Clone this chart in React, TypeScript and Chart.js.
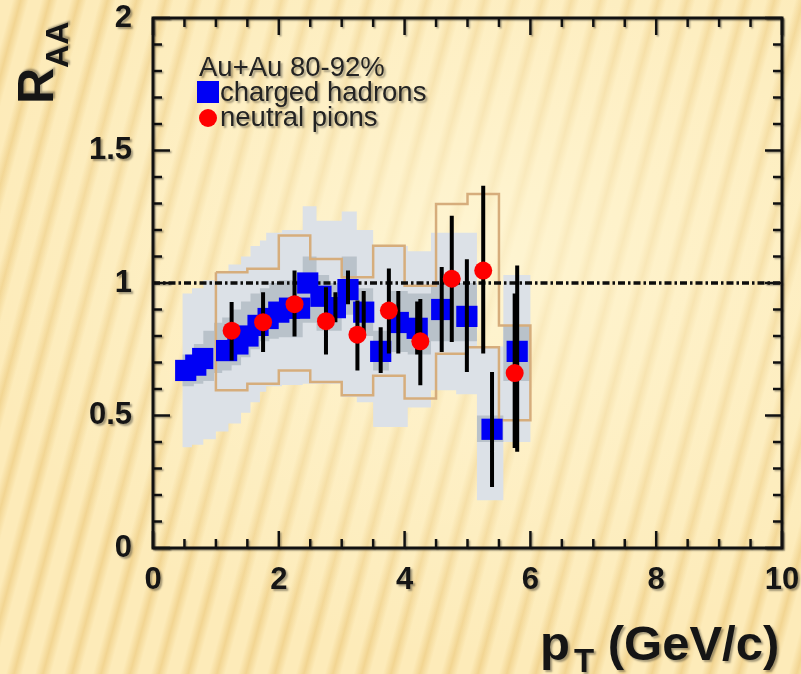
import React, { useEffect, useRef } from "react";
import { Chart, registerables } from "chart.js";

Chart.register(...registerables);

// ---------------- data ----------------
// charged hadrons (blue squares)
const hadronPt = [0.52, 0.68, 0.79, 1.17, 1.35, 1.51, 1.67, 1.83, 2.0, 2.17, 2.33, 2.46, 2.67, 2.9, 3.1, 3.35, 3.62, 3.9, 4.2, 4.59, 4.99, 5.39, 5.79];
const hadronRaa = [0.67, 0.69, 0.715, 0.745, 0.77, 0.8, 0.84, 0.866, 0.89, 0.905, 0.905, 1.0, 0.95, 0.907, 0.975, 0.89, 0.742, 0.851, 0.829, 0.9, 0.874, 0.448, 0.742];
const hadronErrLow = [null, null, null, null, null, null, null, null, null, null, null, null, null, 0.852, 0.92, 0.795, 0.66, 0.734, 0.73, 0.74, 0.664, 0.23, 0.363];
const hadronErrHigh = [null, null, null, null, null, null, null, null, null, null, null, null, null, 0.965, 1.047, 0.97, 0.833, 0.97, 0.93, 1.06, 1.09, 0.664, 1.066];

// charged hadron uncertainty bands (step bins)
const hadronBandEdges = [0.47, 0.62, 0.8, 1.0, 1.2, 1.4, 1.55, 1.7, 1.8, 2.05, 2.38, 2.6, 3.0, 3.24, 3.5, 4.05, 4.42, 4.82, 5.15, 5.57, 6.0];
const hadronBandHigh = [0.96, 0.98, 1.01, 1.04, 1.07, 1.1, 1.14, 1.16, 1.19, 1.2, 1.29, 1.235, 1.27, 1.2, 1.14, 1.12, 1.19, 1.19, 0.76, 1.03];
const hadronBandLow = [0.38, 0.39, 0.41, 0.44, 0.47, 0.51, 0.55, 0.59, 0.61, 0.615, 0.62, 0.62, 0.57, 0.55, 0.457, 0.53, 0.595, 0.58, 0.18, 0.4];

const hadronSysEdges = [0.47, 0.65, 0.8, 0.97, 1.1, 1.25, 1.4, 1.55, 1.7, 1.85, 2.0, 2.38, 2.6, 2.8, 3.0, 3.24, 3.5, 3.75, 4.05, 4.42, 5.15, 5.57, 6.0];
const hadronSysHigh = [0.73, 0.77, 0.82, 0.85, 0.87, 0.9, 0.93, 0.96, 0.98, 1.0, 1.01, 1.1, 1.03, 1.0, 1.1, 0.98, 0.82, 0.97, 0.96, 1.0, 0.5, 0.84];
const hadronSysLow = [0.61, 0.62, 0.63, 0.66, 0.67, 0.69, 0.72, 0.75, 0.78, 0.79, 0.795, 0.85, 0.82, 0.82, 0.88, 0.8, 0.67, 0.74, 0.73, 0.78, 0.4, 0.63];

// neutral pions (red circles)
const pionPt = [1.25, 1.75, 2.25, 2.75, 3.25, 3.75, 4.25, 4.75, 5.25, 5.75];
const pionRaa = [0.82, 0.852, 0.92, 0.856, 0.805, 0.896, 0.78, 1.016, 1.047, 0.66];
const pionErrLow = [0.708, 0.74, 0.798, 0.73, 0.67, 0.734, 0.614, 0.777, 0.734, 0.377];
const pionErrHigh = [0.928, 0.965, 1.047, 0.984, 0.934, 1.055, 0.94, 1.254, 1.367, 0.96];
const pionSysLow = [0.595, 0.62, 0.67, 0.626, 0.576, 0.65, 0.564, 0.733, 0.758, 0.482];
const pionSysHigh = [1.041, 1.054, 1.179, 1.091, 1.022, 1.141, 0.99, 1.298, 1.336, 0.84];
const pionBinWidth = 0.5;

const referenceRaa = 1;
const xRange = [0, 10];
const yRange = [0, 2];
const xMajorStep = 2;
const xMinorStep = 0.5;
const yMajorStep = 0.5;
const yMinorStep = 0.1;

const legendTitle = "Au+Au 80-92%";
const hadronLabel = "charged hadrons";
const pionLabel = "neutral pions";

// ---------------- helpers ----------------
const FONT = "'Liberation Sans', Arial, Helvetica, sans-serif";

type Pt = { x: number; y: number | null };

function polygonFromBins(edges: number[], low: number[], high: number[]): Pt[] {
  const pts: Pt[] = [];
  for (let i = 0; i < high.length; i++) {
    pts.push({ x: edges[i], y: high[i] }, { x: edges[i + 1], y: high[i] });
  }
  for (let i = low.length - 1; i >= 0; i--) {
    pts.push({ x: edges[i + 1], y: low[i] }, { x: edges[i], y: low[i] });
  }
  return pts;
}

function errorBars(xs: number[], lo: (number | null)[], hi: (number | null)[]): Pt[] {
  const pts: Pt[] = [];
  xs.forEach((x, i) => {
    if (lo[i] == null || hi[i] == null) return;
    pts.push({ x, y: lo[i] }, { x, y: hi[i] }, { x, y: null });
  });
  return pts;
}

function pionOutline(): Pt[] {
  const edges = pionPt.map((p) => p - pionBinWidth / 2);
  edges.push(pionPt[pionPt.length - 1] + pionBinWidth / 2);
  const pts = polygonFromBins(edges, pionSysLow, pionSysHigh);
  pts.push({ ...pts[0] });
  return pts;
}

const shadowPlugin = {
  id: "labelShadow",
  beforeDraw(chart: any) {
    const c = chart.ctx;
    c.shadowColor = "rgba(0,0,0,0.35)";
    c.shadowOffsetX = 2;
    c.shadowOffsetY = 2;
    c.shadowBlur = 2;
  },
  beforeDatasetsDraw(chart: any) {
    const c = chart.ctx;
    c.shadowColor = "rgba(0,0,0,0)";
    c.shadowOffsetX = 0;
    c.shadowOffsetY = 0;
    c.shadowBlur = 0;
  },
};

const framePlugin = {
  id: "frameTicks",
  afterDraw(chart: any) {
    const { ctx, chartArea: a, scales } = chart;
    const xs = scales.x;
    const ys = scales.y;
    ctx.save();
    ctx.shadowColor = "rgba(0,0,0,0.3)";
    ctx.shadowOffsetX = 1.5;
    ctx.shadowOffsetY = 1.5;
    ctx.shadowBlur = 1.5;
    ctx.strokeStyle = "#111";
    ctx.lineWidth = 2.5;
    const seg = (x1: number, y1: number, x2: number, y2: number) => {
      ctx.beginPath();
      ctx.moveTo(x1, y1);
      ctx.lineTo(x2, y2);
      ctx.stroke();
    };
    const isMajor = (v: number, step: number) => Math.abs(v / step - Math.round(v / step)) < 1e-6;
    const nx = Math.round((xRange[1] - xRange[0]) / xMinorStep);
    for (let i = 0; i <= nx; i++) {
      const v = xRange[0] + i * xMinorStep;
      const px = xs.getPixelForValue(v);
      const len = isMajor(v, xMajorStep) ? 17 : 9;
      seg(px, a.bottom, px, a.bottom - len);
      seg(px, a.top, px, a.top + len);
    }
    const ny = Math.round((yRange[1] - yRange[0]) / yMinorStep);
    for (let i = 0; i <= ny; i++) {
      const v = yRange[0] + i * yMinorStep;
      const py = ys.getPixelForValue(v);
      const len = isMajor(v, yMajorStep) ? 17 : 9;
      seg(a.left, py, a.left + len, py);
      seg(a.right, py, a.right - len, py);
    }
    ctx.lineWidth = 3;
    ctx.strokeRect(a.left, a.top, a.right - a.left, a.bottom - a.top);
    ctx.restore();
  },
};

export default function App() {
  const canvasRef = useRef<HTMLCanvasElement | null>(null);

  useEffect(() => {
    if (!canvasRef.current) return;
    const chart = new Chart(canvasRef.current, {
      type: "line",
      data: {
        datasets: [
          {
            label: "hadron band",
            data: polygonFromBins(hadronBandEdges, hadronBandLow, hadronBandHigh),
            backgroundColor: "#dce1e7",
            borderWidth: 0,
            fill: "shape",
            pointRadius: 0,
            order: 10,
          },
          {
            label: "hadron sys",
            data: polygonFromBins(hadronSysEdges, hadronSysLow, hadronSysHigh),
            backgroundColor: "#b9c2ca",
            borderWidth: 0,
            fill: "shape",
            pointRadius: 0,
            order: 9,
          },
          {
            label: "pion sys",
            data: pionOutline(),
            borderColor: "#d6ad7c",
            borderWidth: 2.5,
            fill: false,
            pointRadius: 0,
            order: 8,
          },
          {
            label: "reference",
            data: [
              { x: xRange[0], y: referenceRaa },
              { x: xRange[1], y: referenceRaa },
            ],
            borderColor: "#0d0d0d",
            borderWidth: 3.5,
            borderDash: [7, 3, 2.5, 3],
            fill: false,
            pointRadius: 0,
            order: 7,
          },
          {
            label: hadronLabel,
            data: hadronPt.map((x, i) => ({ x, y: hadronRaa[i] })),
            showLine: false,
            pointStyle: "rect",
            pointRadius: 15,
            pointBackgroundColor: "#0000f5",
            pointBorderWidth: 0,
            order: 6,
          },
          {
            label: "hadron errors",
            data: errorBars(hadronPt, hadronErrLow, hadronErrHigh),
            borderColor: "#000",
            borderWidth: 4,
            fill: false,
            pointRadius: 0,
            spanGaps: false,
            order: 5,
          },
          {
            label: "pion errors",
            data: errorBars(pionPt, pionErrLow, pionErrHigh),
            borderColor: "#000",
            borderWidth: 4,
            fill: false,
            pointRadius: 0,
            spanGaps: false,
            order: 4,
          },
          {
            label: pionLabel,
            data: pionPt.map((x, i) => ({ x, y: pionRaa[i] })),
            showLine: false,
            pointStyle: "circle",
            pointRadius: 9,
            pointBackgroundColor: "#ff0000",
            pointBorderWidth: 0,
            order: 3,
          },
        ] as any,
      },
      options: {
        responsive: false,
        devicePixelRatio: 1,
        animation: false,
        events: [],
        layout: { padding: { top: 18, right: 19, left: 0, bottom: 0 } },
        plugins: {
          legend: { display: false },
          tooltip: { enabled: false },
        },
        elements: { line: { tension: 0 } },
        scales: {
          x: {
            type: "linear",
            min: xRange[0],
            max: xRange[1],
            grid: { display: false, drawTicks: false },
            border: { display: false },
            ticks: {
              stepSize: xMajorStep,
              padding: 14,
              color: "#151515",
              font: { family: FONT, size: 31, weight: "bold" },
              maxRotation: 0,
              callback: (v: any) => String(Number(v)),
            },
            afterFit: (s: any) => {
              s.height = 126;
              s.paddingLeft = 0;
              s.paddingRight = 0;
            },
          },
          y: {
            type: "linear",
            min: yRange[0],
            max: yRange[1],
            grid: { display: false, drawTicks: false },
            border: { display: false },
            ticks: {
              stepSize: yMajorStep,
              padding: 21,
              color: "#151515",
              font: { family: FONT, size: 31, weight: "bold" },
              callback: (v: any) => String(Number(v)),
            },
            afterFit: (s: any) => {
              s.width = 153;
              s.paddingTop = 0;
              s.paddingBottom = 0;
            },
          },
        },
      } as any,
      plugins: [shadowPlugin, framePlugin],
    });
    return () => chart.destroy();
  }, []);

  const textShadow = "2px 2px 2px rgba(0,0,0,0.35)";
  const legendText: React.CSSProperties = {
    position: "absolute",
    fontFamily: FONT,
    fontSize: 27.5,
    lineHeight: "27.5px",
    color: "#232323",
    whiteSpace: "nowrap",
    textShadow,
  };

  return (
    <div
      style={{
        position: "absolute",
        left: 0,
        top: 0,
        width: 801,
        height: 674,
        overflow: "hidden",
        background:
          "radial-gradient(ellipse 65% 60% at 60% 38%, rgba(255,248,218,0.75), rgba(255,248,218,0) 100%), repeating-linear-gradient(105deg, #fdebb9 0px, #fdebb9 12px, #f2d592 20px, #fdebb9 28px)",
      }}
    >
      <canvas
        ref={canvasRef}
        width={801}
        height={674}
        style={{ position: "absolute", left: 0, top: 0 }}
      />
      {/* legend */}
      <div style={{ ...legendText, left: 199, top: 52.7 }}>{legendTitle}</div>
      <div
        style={{
          position: "absolute",
          left: 197,
          top: 81,
          width: 22,
          height: 22,
          background: "#0000f5",
        }}
      />
      <div style={{ ...legendText, left: 220, top: 77.7 }}>{hadronLabel}</div>
      <div
        style={{
          position: "absolute",
          left: 199,
          top: 109,
          width: 18,
          height: 18,
          borderRadius: "50%",
          background: "#ff0000",
        }}
      />
      <div style={{ ...legendText, left: 220, top: 102.7 }}>{pionLabel}</div>

      {/* y axis title */}
      <div
        style={{
          position: "absolute",
          left: 10.5,
          top: 103.6,
          transform: "rotate(-90deg)",
          transformOrigin: "0 0",
          fontFamily: FONT,
          fontWeight: "bold",
          fontSize: 50,
          lineHeight: "50px",
          color: "#151515",
          whiteSpace: "nowrap",
          textShadow,
        }}
      >
        R
        <span style={{ fontSize: 32, position: "relative", top: 15 }}>AA</span>
      </div>

      {/* x axis title */}
      <div
        style={{
          position: "absolute",
          left: 540,
          top: 618.5,
          fontFamily: FONT,
          fontWeight: "bold",
          fontSize: 49,
          lineHeight: "49px",
          color: "#151515",
          whiteSpace: "nowrap",
          textShadow,
        }}
      >
        p
        <span style={{ fontSize: 33, position: "relative", top: 12, marginLeft: 4 }}>T</span>
        {" (GeV/c)"}
      </div>
    </div>
  );
}
